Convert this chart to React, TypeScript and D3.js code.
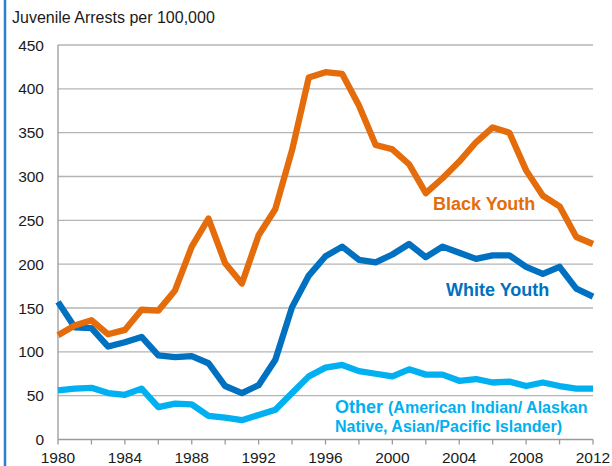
import * as d3 from "d3";
import { useEffect, useRef } from "react";

const years = d3.range(1980, 2013);
const blackYouth = [119, 130, 136, 120, 125, 148, 147, 170, 220, 252, 201, 178, 233, 263, 330, 413, 419, 417, 381, 336, 331, 314, 281, 298, 317, 339, 356, 350, 307, 278, 266, 231, 223];
const whiteYouth = [157, 128, 127, 106, 111, 117, 96, 94, 95, 87, 61, 53, 62, 91, 151, 187, 209, 220, 205, 202, 211, 223, 208, 220, 213, 206, 210, 210, 197, 189, 197, 172, 163];
const otherYouth = [56, 58, 59, 53, 51, 58, 37, 41, 40, 27, 25, 22, 28, 34, 53, 72, 82, 85, 78, 75, 72, 80, 74, 74, 67, 69, 65, 66, 61, 65, 61, 58, 58];
const yTicks = [0, 50, 100, 150, 200, 250, 300, 350, 400, 450];
const xTickMarks = d3.range(1980, 2013, 2);
const xTickLabels = d3.range(1980, 2013, 4);

const FONT = "'Liberation Sans', Arial, sans-serif";

export default function App(): JSX.Element {
  const svgRef = useRef<SVGSVGElement>(null);

  useEffect(() => {
    if (!svgRef.current) return;
    const width = 612;
    const height = 466;
    const margin = { top: 45, right: 19, bottom: 26.5, left: 58 };

    const svg = d3.select(svgRef.current);
    svg.selectAll("*").remove();
    svg.attr("width", width).attr("height", height);

    svg.append("rect").attr("width", width).attr("height", height).attr("fill", "#ffffff");

    // blue rule on the left edge
    svg
      .append("line")
      .attr("x1", 5)
      .attr("x2", 5)
      .attr("y1", 0)
      .attr("y2", height)
      .attr("stroke", "#2a7fd0")
      .attr("stroke-width", 2.5);

    const x = d3.scaleLinear().domain([1980, 2012]).range([margin.left, width - margin.right]);
    const y = d3.scaleLinear().domain([0, 450]).range([height - margin.bottom, margin.top]);

    svg
      .append("text")
      .attr("x", 12)
      .attr("y", 23)
      .attr("font-family", FONT)
      .attr("font-size", 16)
      .attr("fill", "#1a1a1a")
      .text("Juvenile Arrests per 100,000");

    // grid
    svg
      .append("g")
      .selectAll("line")
      .data(yTicks.filter((d) => d > 0))
      .join("line")
      .attr("x1", margin.left)
      .attr("x2", width - margin.right)
      .attr("y1", (d) => y(d))
      .attr("y2", (d) => y(d))
      .attr("stroke", "#b4b4b4")
      .attr("stroke-width", 1.3);

    svg
      .append("g")
      .selectAll("text")
      .data(yTicks)
      .join("text")
      .attr("x", 44)
      .attr("y", (d) => y(d) + 5.5)
      .attr("text-anchor", "end")
      .attr("font-family", FONT)
      .attr("font-size", 15.5)
      .attr("fill", "#1a1a1a")
      .text((d) => d);

    // axes
    svg
      .append("line")
      .attr("x1", margin.left)
      .attr("x2", margin.left)
      .attr("y1", y(450))
      .attr("y2", y(0))
      .attr("stroke", "#9a9a9a")
      .attr("stroke-width", 1.3);

    svg
      .append("line")
      .attr("x1", margin.left)
      .attr("x2", width - margin.right)
      .attr("y1", y(0))
      .attr("y2", y(0))
      .attr("stroke", "#9a9a9a")
      .attr("stroke-width", 1.3);

    svg
      .append("g")
      .selectAll("line")
      .data(xTickMarks)
      .join("line")
      .attr("x1", (d) => x(d))
      .attr("x2", (d) => x(d))
      .attr("y1", y(0))
      .attr("y2", y(0) + 5)
      .attr("stroke", "#9a9a9a")
      .attr("stroke-width", 1.3);

    svg
      .append("g")
      .selectAll("text")
      .data(xTickLabels)
      .join("text")
      .attr("x", (d) => x(d))
      .attr("y", 463)
      .attr("text-anchor", "middle")
      .attr("font-family", FONT)
      .attr("font-size", 15.5)
      .attr("fill", "#1a1a1a")
      .text((d) => d);

    const line = d3
      .line<number>()
      .x((_, i) => x(years[i]))
      .y((d) => y(d));

    const series = [
      { values: otherYouth, color: "#00b0f0" },
      { values: whiteYouth, color: "#0070c0" },
      { values: blackYouth, color: "#e46c0a" },
    ];
    for (const s of series) {
      svg
        .append("path")
        .datum(s.values)
        .attr("d", line)
        .attr("fill", "none")
        .attr("stroke", s.color)
        .attr("stroke-width", 6.3)
        .attr("stroke-linejoin", "round");
    }

    svg
      .append("text")
      .attr("x", 433)
      .attr("y", 210)
      .attr("font-family", FONT)
      .attr("font-weight", "bold")
      .attr("font-size", 18)
      .attr("fill", "#e46c0a")
      .text("Black Youth");

    svg
      .append("text")
      .attr("x", 446)
      .attr("y", 296)
      .attr("font-family", FONT)
      .attr("font-weight", "bold")
      .attr("font-size", 18)
      .attr("fill", "#0070c0")
      .text("White Youth");

    const other = svg
      .append("text")
      .attr("x", 335)
      .attr("y", 413)
      .attr("font-family", FONT)
      .attr("font-weight", "bold")
      .attr("fill", "#00b0f0");
    other.append("tspan").attr("font-size", 18).text("Other ");
    other.append("tspan").attr("font-size", 16).text("(American Indian/ Alaskan");
    svg
      .append("text")
      .attr("x", 335)
      .attr("y", 432)
      .attr("font-family", FONT)
      .attr("font-weight", "bold")
      .attr("font-size", 16)
      .attr("fill", "#00b0f0")
      .text("Native, Asian/Pacific Islander)");
  }, []);

  return (
    <div style={{ position: "absolute", left: 0, top: 0 }}>
      <svg ref={svgRef} style={{ display: "block" }} />
    </div>
  );
}
